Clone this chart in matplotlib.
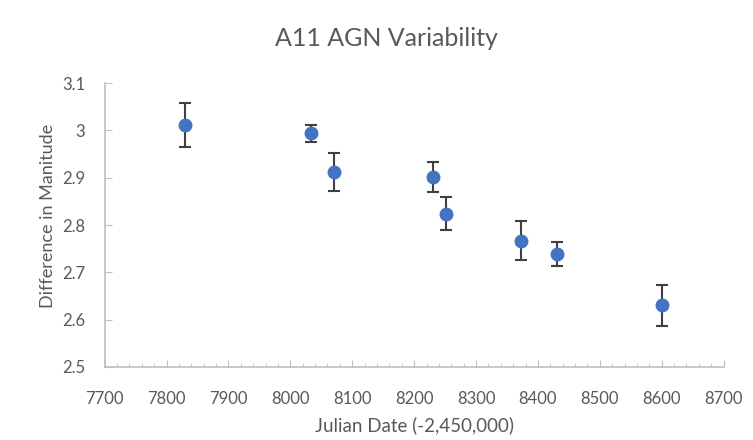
import numpy as np
import matplotlib.pyplot as plt
from matplotlib.ticker import MultipleLocator

# Data
julian_date = [7830, 8034, 8070, 8230, 8252, 8373, 8430, 8600]
mag_diff = [3.011, 2.994, 2.912, 2.902, 2.824, 2.767, 2.739, 2.630]
mag_err = [0.047, 0.018, 0.041, 0.032, 0.035, 0.041, 0.025, 0.044]

plt.rcParams['font.family'] = ['Lato', 'DejaVu Sans']
text_color = '#595959'
axis_color = '#bfbfbf'

fig = plt.figure(figsize=(7.53, 4.4), dpi=100)
ax = fig.add_axes([0.139, 0.166, 0.822, 0.645])

ax.errorbar(julian_date, mag_diff, yerr=mag_err, fmt='o', color='#4472C4',
            markersize=9, ecolor='#404040', elinewidth=1.5, capsize=4,
            capthick=1.5, zorder=3)

ax.set_xlim(7700, 8700)
ax.set_ylim(2.5, 3.1)
ax.xaxis.set_major_locator(MultipleLocator(100))
ax.xaxis.set_minor_locator(MultipleLocator(20))
ax.set_yticks([2.5, 2.6, 2.7, 2.8, 2.9, 3.0, 3.1])
ax.set_yticklabels(['2.5', '2.6', '2.7', '2.8', '2.9', '3', '3.1'])

for side in ['top', 'right']:
    ax.spines[side].set_visible(False)
for side in ['left', 'bottom']:
    ax.spines[side].set_color(axis_color)
    ax.spines[side].set_linewidth(1.2)

ax.tick_params(axis='both', which='major', direction='in', length=5,
               color=axis_color, labelcolor=text_color, labelsize=12, pad=14)
ax.tick_params(axis='x', which='major', pad=17)
ax.tick_params(axis='x', which='minor', direction='in', length=3, color=axis_color)

fig.suptitle('A11 AGN Variability', fontsize=18, color=text_color,
             x=0.513, y=1 - 38 / 440, va='center')
ax.set_xlabel('Julian Date (-2,450,000)', fontsize=13.5, color=text_color, va='center')
ax.xaxis.set_label_coords(0.5, -(425 - 367) / 284)
ax.set_ylabel('Difference in Manitude', fontsize=13, color=text_color, va='center')
ax.yaxis.set_label_coords(-(105 - 48) / 619, (367 - 216) / 284)

fig.savefig('out.png', dpi=100)
